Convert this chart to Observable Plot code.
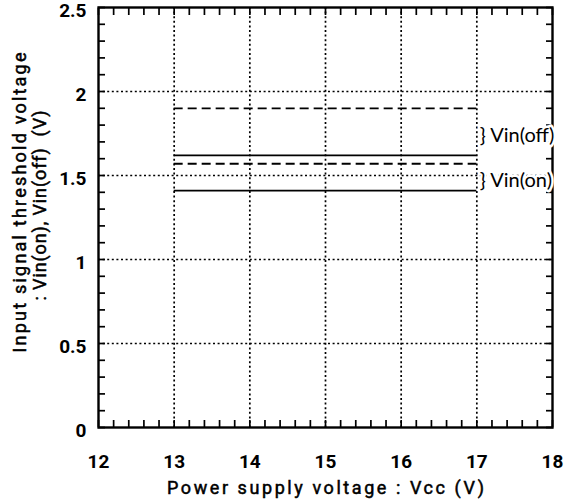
<!DOCTYPE html>
<html><head><meta charset="utf-8">
<script src="https://cdn.jsdelivr.net/npm/d3@7"></script>
<script src="https://cdn.jsdelivr.net/npm/@observablehq/plot@0.6"></script>
<style>body{margin:0;background:#fff}</style>
</head><body><div id="chart"></div>
<script>
// ---- data ----
const seriesNames = ["Vin(off) max", "Vin(off) typ", "Vin(on) max", "Vin(on) typ"];
const seriesValues = [1.90, 1.62, 1.57, 1.41];
const vccRange = [13, 17];
const xTicks = [12, 13, 14, 15, 16, 17, 18];
const yTicks = [0, 0.5, 1, 1.5, 2, 2.5];
const xGrid = [13, 14, 15, 16, 17];
const yGrid = [0.5, 1, 1.5, 2];
const xMinor = d3.range(0, 31).map(i => 12 + i * 0.2);
const yMinor = d3.range(0, 26).map(i => i * 0.1);
const labelNames = ["} Vin(off)", "} Vin(on)"];
const labelValues = [1.74, 1.47];
const xTitle = "Power supply voltage : Vcc (V)";
const yTitle1 = "Input signal threshold voltage";
const yTitle2 = ": Vin(on), Vin(off)  (V)";

// styles
const dashedSeries = new Set(["Vin(off) max", "Vin(on) max"]);
const titleLengths = new Map([[xTitle, 317], [yTitle1, 300], [yTitle2, 190]]);

const rows = seriesNames.map((s, i) => ({s, v: seriesValues[i], x1: vccRange[0], x2: vccRange[1]}));
const labels = labelNames.map((t, i) => ({t, v: labelValues[i], x: vccRange[1]}));

const font = "Roboto, 'Liberation Sans', sans-serif";
const black = "#000";

const chart = Plot.plot({
  width: 583, height: 503,
  marginLeft: 98, marginRight: 31, marginTop: 7, marginBottom: 76,
  x: {domain: [12, 18]},
  y: {domain: [0, 2.5]},
  style: {fontFamily: font, background: "#fff", color: black},
  marks: [
    Plot.gridX(xGrid, {stroke: black, strokeOpacity: 1, strokeWidth: 1.7, strokeDasharray: "2,2.6"}),
    Plot.gridY(yGrid, {stroke: black, strokeOpacity: 1, strokeWidth: 1.7, strokeDasharray: "2,2.6"}),
    Plot.ruleY(rows.filter(d => !dashedSeries.has(d.s)), {y: "v", x1: "x1", x2: "x2", stroke: black, strokeWidth: 1.8}),
    Plot.ruleY(rows.filter(d => dashedSeries.has(d.s)), {y: "v", x1: "x1", x2: "x2", stroke: black, strokeWidth: 1.8, strokeDasharray: "9,5"}),
    Plot.frame({stroke: black, strokeWidth: 2.4}),
    Plot.axisX(xMinor, {anchor: "bottom", tickSize: -7, tickFormat: () => "", strokeWidth: 1.7, label: null}),
    Plot.axisX(xMinor, {anchor: "top", tickSize: -7, tickFormat: () => "", strokeWidth: 1.7, label: null}),
    Plot.axisY(yMinor, {anchor: "left", tickSize: -7, tickFormat: () => "", strokeWidth: 1.7, label: null}),
    Plot.axisY(yMinor, {anchor: "right", tickSize: -7, tickFormat: () => "", strokeWidth: 1.7, label: null}),
    Plot.axisX(xTicks, {anchor: "bottom", tickSize: 0, tickPadding: 27, fontSize: 19, fontWeight: "bold", tickFormat: d => String(d), label: null}),
    Plot.axisY(yTicks, {anchor: "left", tickSize: 0, tickPadding: 12, dy: 3, fontSize: 19, fontWeight: "bold", tickFormat: d => String(d), label: null}),
    Plot.text(labels, {x: "x", y: "v", text: "t", textAnchor: "start", dx: 3, fontSize: 20, fontFamily: "Lato, sans-serif", fill: black, stroke: "#fff", strokeWidth: 5}),
    Plot.text([xTitle], {frameAnchor: "bottom", textAnchor: "middle", text: d => d, dy: 66, fontSize: 18, fill: black}),
    Plot.text([yTitle1], {frameAnchor: "left", textAnchor: "middle", text: d => d, rotate: -90, dx: -78, dy: -15, fontSize: 18, fill: black}),
    Plot.text([yTitle2], {frameAnchor: "left", textAnchor: "middle", text: d => d, rotate: -90, dx: -58, dy: -12, fontSize: 18, fill: black})
  ]
});
document.getElementById("chart").appendChild(chart);
d3.select(chart).selectAll("text").each(function() {
  const t = this.textContent;
  if (titleLengths.has(t)) d3.select(this).attr("textLength", titleLengths.get(t)).attr("lengthAdjust", "spacing").attr("stroke", black).attr("stroke-width", 0.5);
});
</script>
</body></html>
